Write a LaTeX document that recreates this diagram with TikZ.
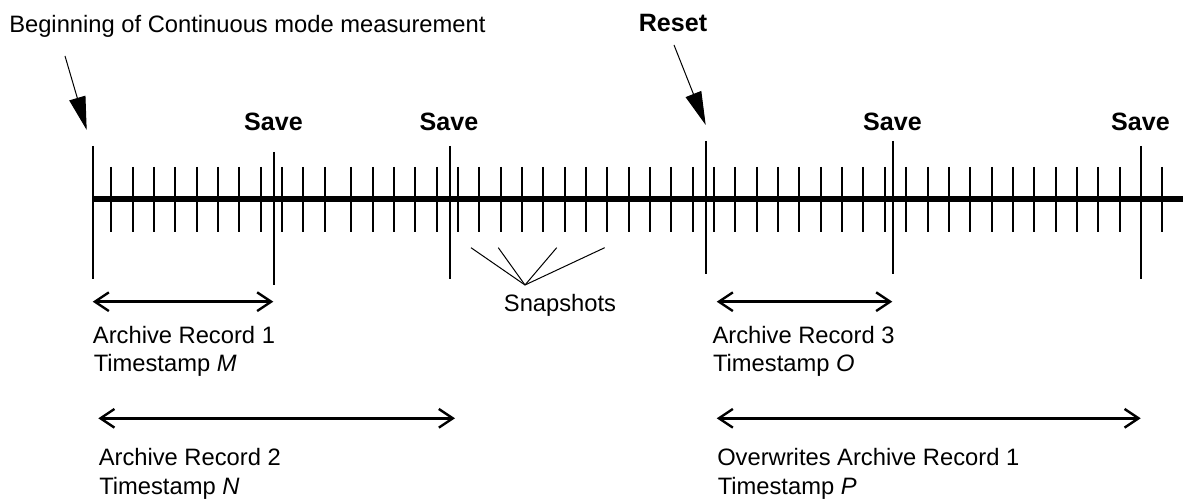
\documentclass[tikz,border=0pt]{standalone}
\usepackage{fontspec}
\setmainfont{Liberation Sans}
\usetikzlibrary{arrows.meta}
\begin{document}
\begin{tikzpicture}[x=0.75pt,y=-0.75pt,
  lbl/.style={font=\fontsize{17.8}{21}\selectfont, inner sep=0pt, anchor=base west},
  bld/.style={font=\bfseries\fontsize{18.8}{22}\selectfont, inner sep=0pt, anchor=base},
  smalltick/.style={line width=1.5pt},
  longline/.style={line width=1.5pt},
  axisline/.style={line width=4.5pt},
  pointer/.style={line width=0.75pt, -{Triangle[length=25pt,width=12.5pt]}},
  spanarrow/.style={line width=1.8pt, {Straight Barb[length=10.5pt,width=14pt]}-{Straight Barb[length=10.5pt,width=14pt]}},
  thinline/.style={line width=0.75pt}]
\useasboundingbox (0,0) rectangle (1183,499);

% small ticks
\foreach \x in {110.7,132.7,153.7,174.7,196.7,217.7,239,260.7,281.7,302.7,324.7,351,372.7,393.7,414.7,436.7,458,479,501,522,543,565,586,607,629,650,671,693,713.7,735,756.7,778,799,821,841.7,862.7,885,906,927.7,948.7,970,991.7,1012.7,1033.7,1055.7,1076.7,1097.7,1120,1162}
  \draw[smalltick] (\x,167) -- (\x,231.7);

% axis
\coordinate (axL) at (92.7,199.3);
\coordinate (axR) at (1183,199.3);
\draw[axisline] (axL) -- (axR);

% long event lines
\coordinate (L0t) at (92.7,146);  \coordinate (L0b) at (92.7,279);
\coordinate (L1t) at (273.7,152); \coordinate (L1b) at (273.7,285);
\coordinate (L2t) at (450,146);   \coordinate (L2b) at (450,279);
\coordinate (L3t) at (705.7,141); \coordinate (L3b) at (705.7,274);
\coordinate (L4t) at (892.7,141); \coordinate (L4b) at (892.7,274);
\coordinate (L5t) at (1140.7,146);\coordinate (L5b) at (1140.7,279);
\foreach \i in {0,...,5}
  \draw[longline] (L\i t) -- (L\i b);

% top labels
\node[lbl] (begin) at (9,33) {Beginning of Continuous mode measurement};
\node[bld] (reset) at (673,32) {Reset};
\node[bld] (save1) at (273.5,131) {Save};
\node[bld] (save2) at (449,131) {Save};
\node[bld] (save3) at (892.5,131) {Save};
\node[bld] (save4) at (1140.5,131) {Save};

% pointers
\coordinate (bp0) at (65,56);   \coordinate (bp1) at (86.7,130);
\coordinate (rp0) at (674,45);  \coordinate (rp1) at (705.7,125);
\draw[pointer] (bp0) -- (bp1);
\draw[pointer] (rp0) -- (rp1);

% snapshots
\node[lbl, anchor=base] (snap) at (560,311.7) {Snapshots};
\coordinate (sc) at (525,285);
\coordinate (s1) at (471,247.7);
\coordinate (s2) at (498.3,247.7);
\coordinate (s3) at (556.7,247.7);
\coordinate (s4) at (604.7,247.7);
\foreach \k in {1,...,4}
  \draw[thinline] (sc) -- (s\k);

% spans
\coordinate (a1l) at (92.7,301.7);  \coordinate (a1r) at (273.3,301.7);
\coordinate (a2l) at (98.3,418.3);  \coordinate (a2r) at (455,418.3);
\coordinate (a3l) at (716.7,301.7); \coordinate (a3r) at (892.3,301.7);
\coordinate (a4l) at (716.7,418.3); \coordinate (a4r) at (1140.7,418.3);
\draw[spanarrow] (a1l) -- (a1r);
\draw[spanarrow] (a2l) -- (a2r);
\draw[spanarrow] (a3l) -- (a3r);
\draw[spanarrow] (a4l) -- (a4r);

% record labels
\node[lbl] (r1a) at (92.7,344)   {Archive Record 1};
\node[lbl] (r1b) at (93.5,371.7) {Timestamp \textit{M}};
\node[lbl] (r2a) at (98.5,465.7) {Archive Record 2};
\node[lbl] (r2b) at (99,494)     {Timestamp \textit{N}};
\node[lbl] (r3a) at (712.3,344)  {Archive Record 3};
\node[lbl] (r3b) at (712.8,371.7){Timestamp \textit{O}};
\node[lbl] (r4a) at (717,465.7)  {Overwrites Archive Record 1};
\node[lbl] (r4b) at (717.5,494)  {Timestamp \textit{P}};
\end{tikzpicture}
\end{document}
